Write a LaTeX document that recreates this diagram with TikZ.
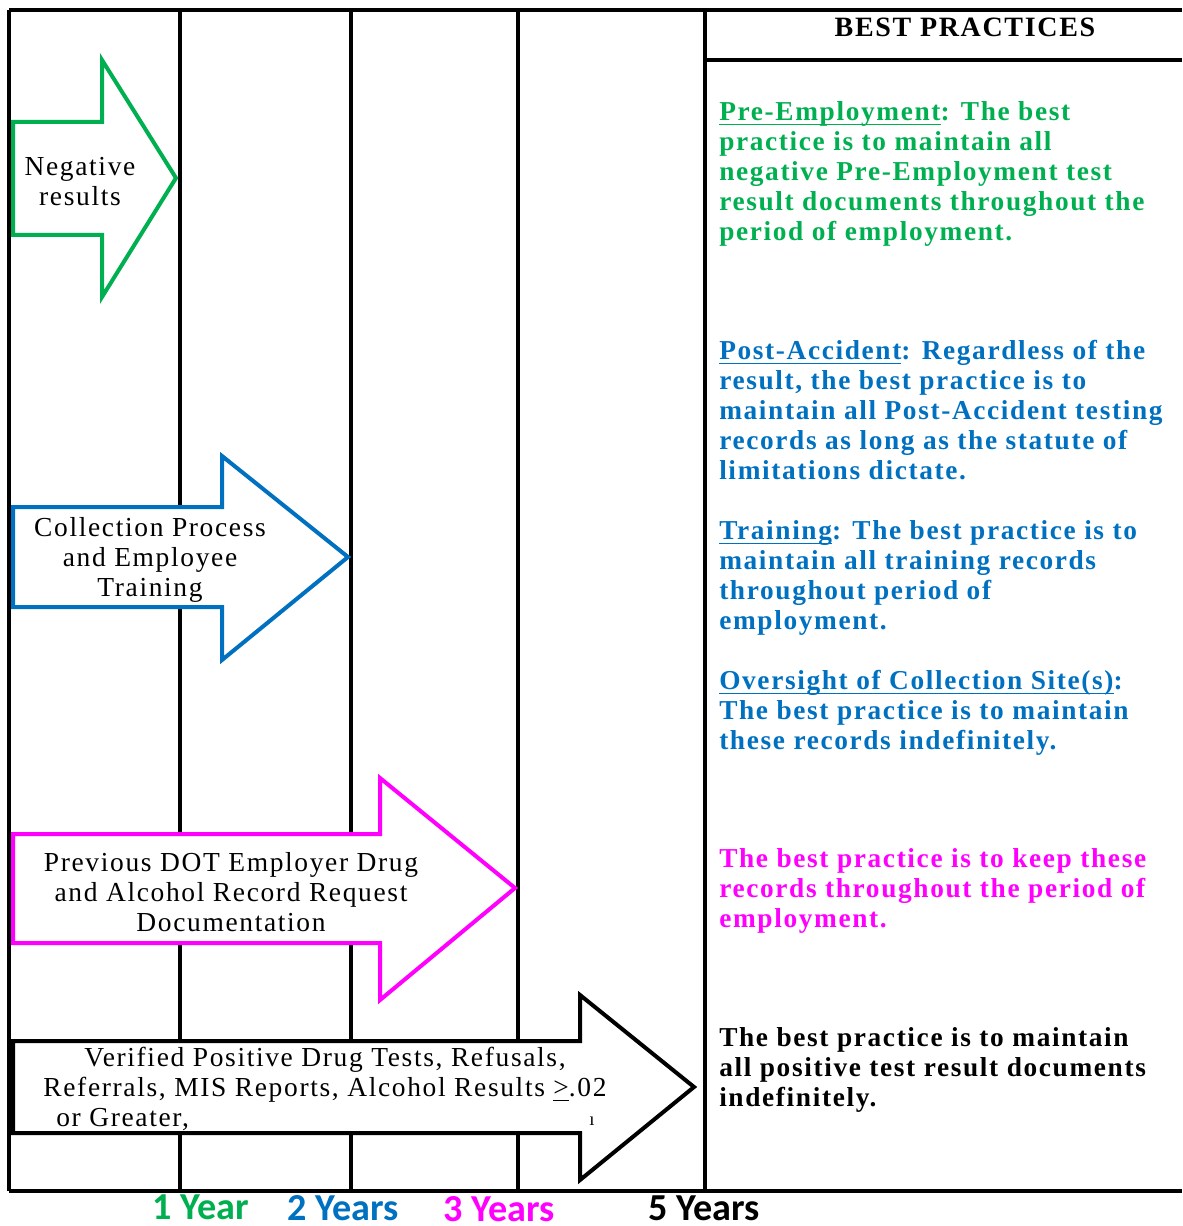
\documentclass[tikz,border=0pt]{standalone}
\usepackage{fontspec}
\setmainfont{Liberation Serif}
\newfontfamily\lsf[LetterSpace=6]{Liberation Serif}
\newfontfamily\calb{Carlito}
\newcommand\myul[1]{\underline{\smash{#1}\rule[-1.6pt]{0pt}{0pt}}}
\definecolor{cgreen}{HTML}{00B050}
\definecolor{cblue}{HTML}{0070C0}
\definecolor{cpink}{HTML}{FF00FF}
\begin{document}
\begin{tikzpicture}[x=0.75pt,y=-0.75pt,
  grid/.style={line width=2.4pt,black},
  arr/.style={line width=3pt,fill=white,line join=miter,miter limit=10},
  lbl/.style={inner sep=0pt,align=center,font=\lsf\fontsize{20.6}{22.5}\selectfont},
  para/.style={inner sep=0pt,align=left,anchor=north west,font=\lsf\bfseries\fontsize{20.5}{22.5}\selectfont},
  yr/.style={inner sep=0pt,font=\calb\bfseries\fontsize{28.6}{30}\selectfont}]
\useasboundingbox (0,0) rectangle (1182,1226);
% frame and grid
\draw[grid] (9,10) -- (1182,10);
\draw[grid] (9,10) -- (9,1191);
\foreach \x in {180,351,518,705} \draw[grid] (\x,10) -- (\x,1191);
\draw[grid] (705,60) -- (1182,60);
\draw[grid] (9,1191) -- (1182,1191);
% arrows
\draw[arr,draw=cgreen] (13,122) -- (102,122) -- (102,60) -- (176,178) -- (102,297) -- (102,235) -- (13,235) -- cycle;
\draw[arr,draw=cblue] (13,507) -- (222,507) -- (222,456) -- (348,557) -- (222,660) -- (222,607) -- (13,607) -- cycle;
\draw[arr,draw=cpink] (13,834) -- (380,834) -- (380,778) -- (515,888) -- (380,1000) -- (380,943) -- (13,943) -- cycle;
\draw[arr,draw=black] (13,1041) -- (580,1041) -- (580,995) -- (694,1087) -- (580,1180) -- (580,1133) -- (13,1133) -- cycle;
% arrow labels
\node[lbl] (neg) at (80,182) {Negative\\results};
\node[lbl] (coll) at (150,560) {Collection Process\\and Employee\\Training};
\node[lbl] (prev) at (231,892) {Previous DOT Employer Drug\\and Alcohol Record Request\\Documentation};
\node[lbl] (pos) at (325,1075) {Verified Positive Drug Tests, Refusals,\\Referrals, MIS Reports, Alcohol Results \myul{>}.02};
\node[lbl,anchor=base west] (greater) at (56,1126) {or Greater,};
\node[inner sep=0pt,font=\fontsize{14}{14}\selectfont] (mark) at (592,1121) {ı};
% header
\node[inner sep=0pt,font=\lsf\bfseries\fontsize{21}{23}\selectfont] (hdr) at (965,27) {BEST PRACTICES};
% best practices text
\node[para,text=cgreen] (pre) at (719,101) {\myul{Pre-Employment}: The best\\practice is to maintain all\\negative Pre-Employment test\\result documents throughout the\\period of employment.};
\node[para,text=cblue] (post) at (719,340) {\myul{Post-Accident}: Regardless of the\\result, the best practice is to\\maintain all Post-Accident testing\\records as long as the statute of\\limitations dictate.};
\node[para,text=cblue] (train) at (719,520) {\myul{Training}: The best practice is to\\maintain all training records\\throughout period of\\employment.};
\node[para,text=cblue] (over) at (719,676) {\myul{Oversight of Collection Site(s)}:\\The best practice is to maintain\\these records indefinitely.};
\node[para,text=cpink] (pink) at (719,848) {The best practice is to keep these\\records throughout the period of\\employment.};
\node[para,text=black] (blk) at (719,1027) {The best practice is to maintain\\all positive test result documents\\indefinitely.};
% year labels
\node[yr,text=cgreen] (y1) at (201,1207) {1 Year};
\node[yr,text=cblue] (y2) at (343,1208) {2 Years};
\node[yr,text=cpink] (y3) at (499,1209) {3 Years};
\node[yr,text=black] (y5) at (704,1208) {5 Years};
\end{tikzpicture}
\end{document}
